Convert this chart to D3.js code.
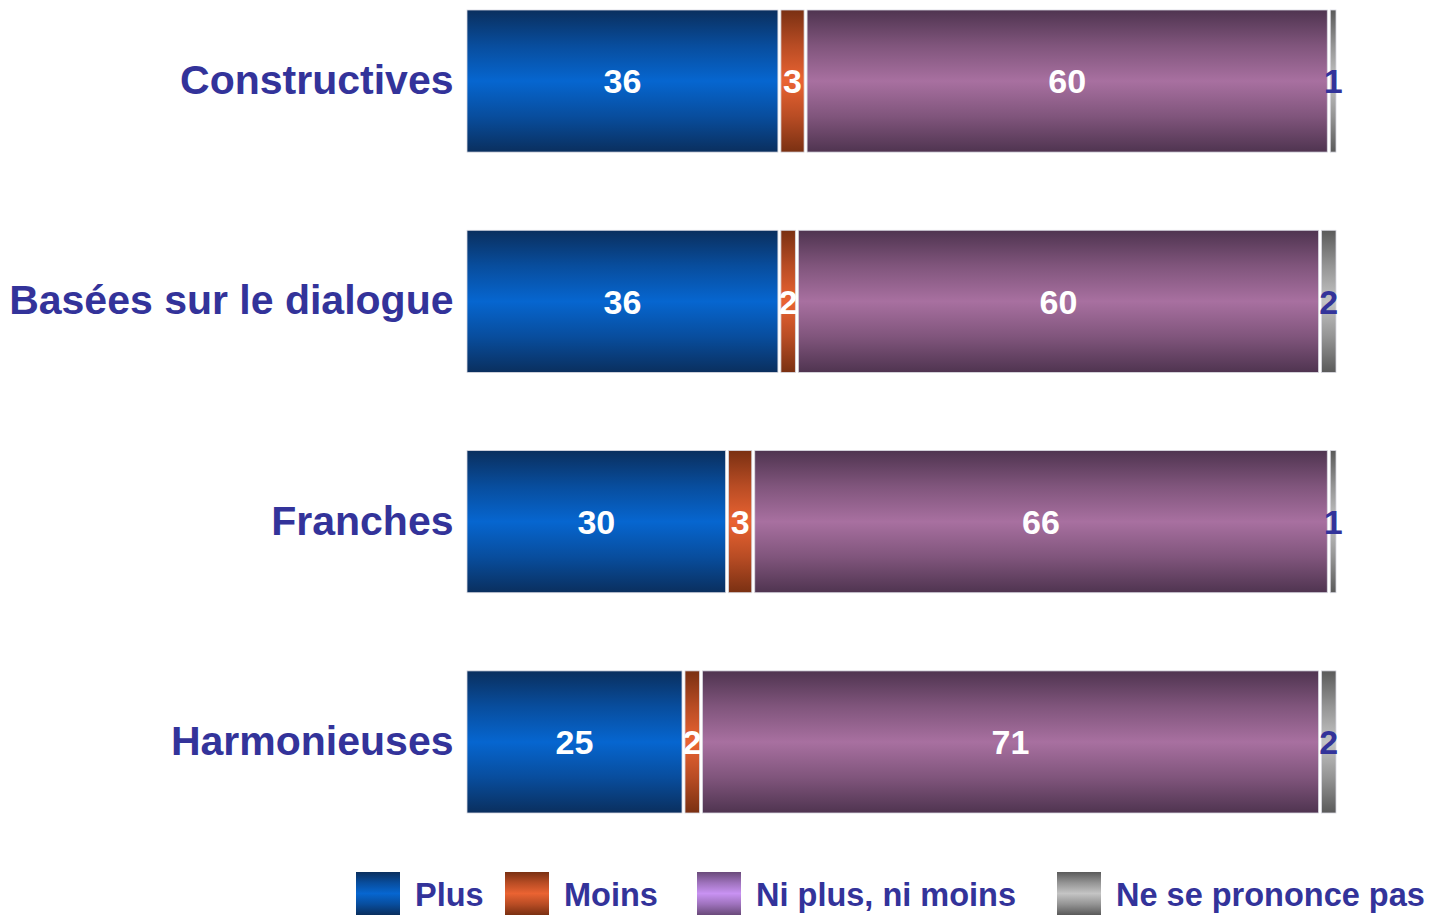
<!DOCTYPE html>
<html>
<head>
<meta charset="utf-8">
<script src="https://cdn.jsdelivr.net/npm/d3@7"></script>
<style>
    body { margin: 0; background: #fff; }
    svg { display: block; font-family: "Liberation Sans", Arial, sans-serif; font-weight: bold; }
</style>
</head>
<body>
<div id="chart"></div>
<script>
// data
const categories = ["Constructives", "Basées sur le dialogue", "Franches", "Harmonieuses"];
const seriesNames = ["Plus", "Moins", "Ni plus, ni moins", "Ne se prononce pas"];
const plus = [36, 36, 30, 25];
const moins = [3, 2, 3, 2];
const niPlus = [60, 60, 66, 71];
const nsp = [1, 2, 1, 2];

const width = 1438, height = 916;
const labelColor = "#33339a";

// gradient stops per series: [edge, middle]
const barColors = [
    ["#0a2f5e", "#0666d0"],
    ["#7a3012", "#ea6332"],
    ["#4f3450", "#a870a0"],
    ["#5a5a5a", "#c4c4c4"]
];
const legendColors = [
    ["#0a2f5e", "#0666d0"],
    ["#7a3012", "#ea6332"],
    ["#6a4a7a", "#c892f2"],
    ["#5a5a5a", "#c4c4c4"]
];

const svg = d3.select("#chart").append("svg")
    .attr("width", width)
    .attr("height", height);

const defs = svg.append("defs");
function addGradient(id, c) {
    let g = defs.append("linearGradient")
        .attr("id", id)
        .attr("x1", 0).attr("y1", 0).attr("x2", 0).attr("y2", 1);
    g.append("stop").attr("offset", "0%").attr("stop-color", c[0]);
    g.append("stop").attr("offset", "25%").attr("stop-color", d3.interpolateRgb(c[0], c[1])(0.55));
    g.append("stop").attr("offset", "50%").attr("stop-color", c[1]);
    g.append("stop").attr("offset", "75%").attr("stop-color", d3.interpolateRgb(c[0], c[1])(0.55));
    g.append("stop").attr("offset", "100%").attr("stop-color", c[0]);
}
barColors.forEach((c, i) => addGradient("bar" + i, c));
legendColors.forEach((c, i) => addGradient("leg" + i, c));

// scales
const x = d3.scaleLinear().domain([0, 100]).range([465.5, 1337.5]);
const y = d3.scaleBand().domain(categories).range([10, 813]).paddingInner(0.355).paddingOuter(0);

// stacked data
const rows = categories.map((c, i) => ({
    cat: c,
    "Plus": plus[i],
    "Moins": moins[i],
    "Ni plus, ni moins": niPlus[i],
    "Ne se prononce pas": nsp[i]
}));
const stacked = d3.stack().keys(seriesNames)(rows);

const layers = svg.selectAll(".layer")
    .data(stacked)
    .enter().append("g")
    .attr("class", "layer");

layers.selectAll("rect")
    .data((d, i) => d.map(p => ({p: p, i: i})))
    .enter().append("rect")
    .attr("x", d => x(d.p[0]) + 1.5)
    .attr("y", d => y(d.p.data.cat))
    .attr("width", d => Math.max(1, x(d.p[1]) - x(d.p[0]) - 3))
    .attr("height", y.bandwidth())
    .attr("fill", d => "url(#bar" + d.i + ")")
    .attr("stroke", "#d8d8e0")
    .attr("stroke-width", 0.8);

// value labels
layers.selectAll("text")
    .data((d, i) => d.map(p => ({p: p, i: i})))
    .enter().append("text")
    .attr("x", d => (x(d.p[0]) + x(d.p[1])) / 2)
    .attr("y", d => y(d.p.data.cat) + y.bandwidth() / 2)
    .attr("dy", "0.36em")
    .attr("text-anchor", "middle")
    .attr("font-size", 34)
    .attr("fill", d => d.i == 3 ? labelColor : "#fff")
    .text(d => d.p[1] - d.p[0]);

// category labels
const yAxis = d3.axisLeft(y).tickSize(0).tickPadding(12);
svg.append("g")
    .attr("class", "y-axis")
    .attr("transform", "translate(465.5,0)")
    .call(yAxis)
    .call(g => g.select(".domain").remove())
    .selectAll("text")
    .attr("font-size", 41)
    .attr("font-family", "Liberation Sans, Arial, sans-serif")
    .attr("font-weight", "bold")
    .attr("fill", labelColor);

// legend
const legendX = [356, 505, 697, 1057];
const legend = svg.selectAll(".legend")
    .data(seriesNames)
    .enter().append("g")
    .attr("class", "legend")
    .attr("transform", (d, i) => `translate(${legendX[i]}, 872)`);

legend.append("rect")
    .attr("width", 44)
    .attr("height", 43)
    .attr("fill", (d, i) => "url(#leg" + i + ")");

legend.append("text")
    .attr("x", 59)
    .attr("y", 22)
    .attr("dy", "0.36em")
    .attr("font-size", 32.5)
    .attr("fill", labelColor)
    .text(d => d);
</script>
</body>
</html>
